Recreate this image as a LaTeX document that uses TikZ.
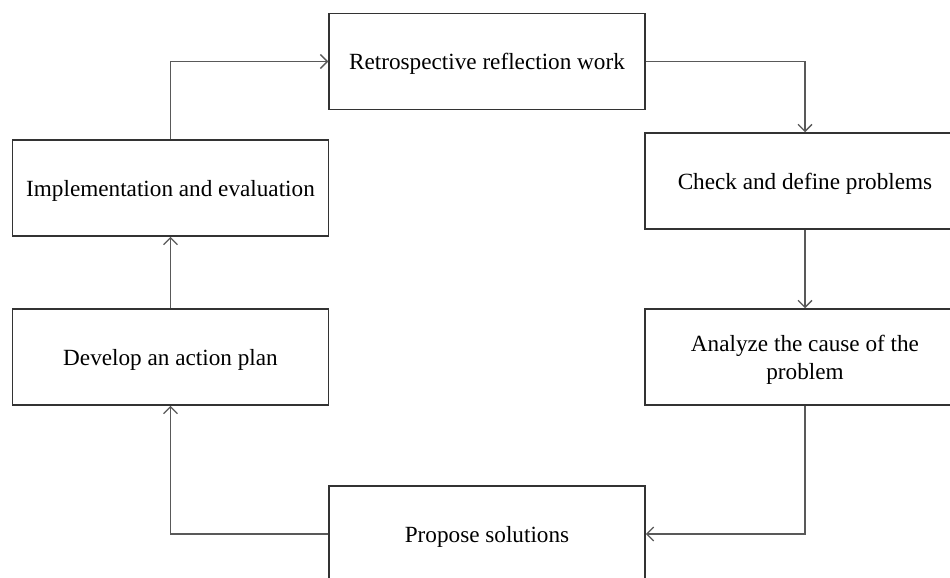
\documentclass[tikz,border=0pt]{standalone}
\usepackage{fontspec}
\setmainfont{Liberation Serif}
\usetikzlibrary{arrows.meta}
\tikzset{
  box/.style={draw=black!80,line width=0.75pt,minimum width=158pt,minimum height=48pt,inner sep=0pt,text depth=0pt,align=center,font=\fontsize{11.6}{14}\selectfont},
  flow/.style={draw=black!65,line width=0.7pt,-{Straight Barb[length=3.5pt,width=7pt]}}
}
\begin{document}
\begin{tikzpicture}[x=0.5pt,y=-0.5pt]
\useasboundingbox (0,0) rectangle (950,578);
\clip (0,0) rectangle (950,578);
\node[box] (retro) at (487,61.5) {Retrospective reflection work};
\node[box,minimum width=160pt] (check) at (805,181) {Check and define problems};
\node[box,minimum width=160pt] (cause) at (805,357) {Analyze the cause of the\\problem};
\node[box] (propose) at (487,534) {Propose solutions};
\node[box] (plan) at (170.5,357) {Develop an action plan};
\node[box] (impl) at (170.5,188) {Implementation and evaluation};
\draw[flow] (impl.north) |- (retro.west);
\draw[flow] (retro.east) -| (check.north);
\draw[flow] (check) -- (cause);
\draw[flow] (cause.south) |- (propose.east);
\draw[flow] (propose.west) -| (plan.south);
\draw[flow] (plan) -- (impl);
\end{tikzpicture}
\end{document}
